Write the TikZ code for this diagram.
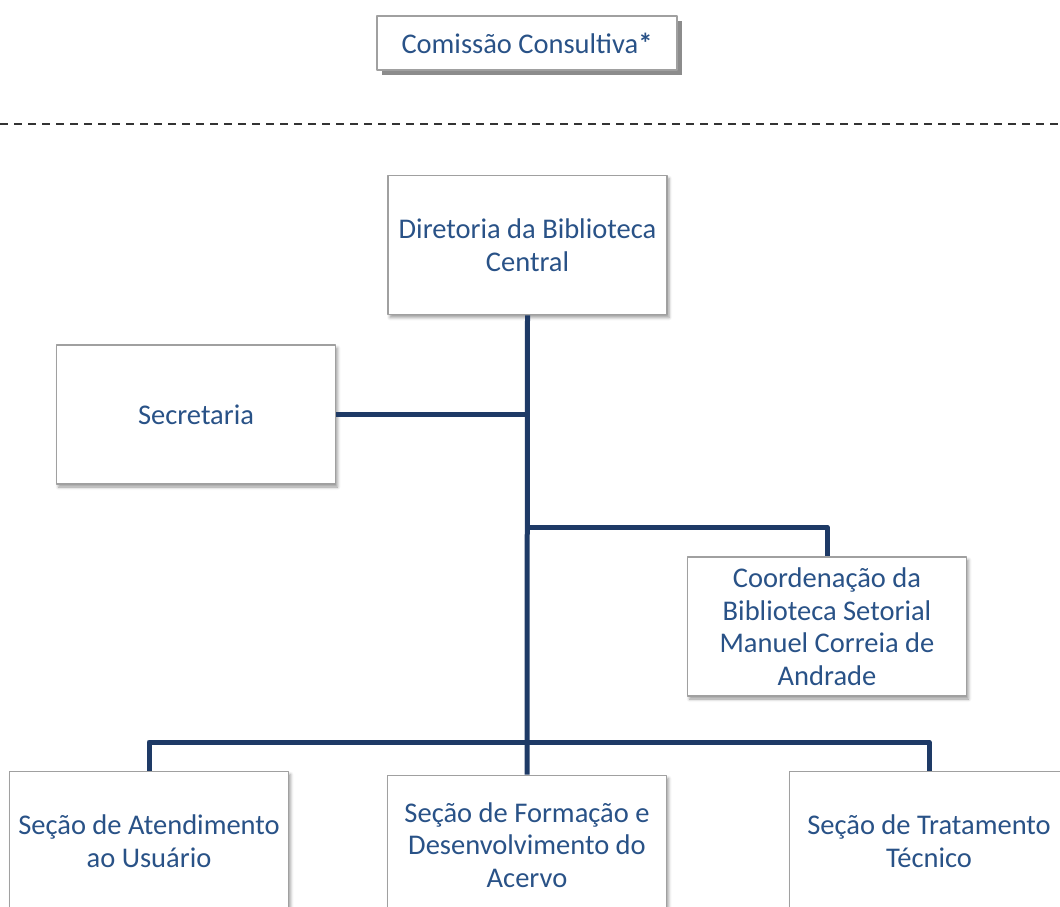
\documentclass[tikz,border=0pt]{standalone}
\usepackage{fontspec}
\setmainfont{Carlito}
\usepackage{tikz}
\usetikzlibrary{calc}
\usetikzlibrary{positioning}
\usetikzlibrary{shadows}
\usetikzlibrary{shadows.blur}

\definecolor{textblue}{RGB}{41,82,135}
\definecolor{linenavy}{RGB}{30,58,102}
\definecolor{boxgray}{RGB}{160,160,160}

\begin{document}
\begin{tikzpicture}
			[
			x=1pt,y=-1pt,
			font=\fontsize{28.5}{32.5}\selectfont,
			line join=round
			]
			
			% Styles: boxes and connectors
			\tikzstyle{unit box}=[draw=boxgray,line width=1.6pt,fill=white,text=textblue,align=center,
				minimum width=279pt,minimum height=139pt,inner sep=0pt,
				blur shadow={shadow xshift=2pt,shadow yshift=-3pt,shadow blur radius=3pt,shadow opacity=40}];
			\tikzstyle{top box}=[draw=boxgray,line width=1.6pt,fill=white,text=textblue,align=center,
				minimum width=300pt,minimum height=54pt,inner sep=0pt,
				drop shadow={shadow xshift=5pt,shadow yshift=-5pt,fill=black!45,opacity=1}];
			\tikzstyle{link}=[draw=linenavy,line width=5pt];
			
			\useasboundingbox (0,0) rectangle (1060,907);
			
			% Consultative body above the line
			\node(com)[top box] at (527,43) {Comissão Consultiva\textbf{*}};
			\coordinate (dl) at (0,124);
			\coordinate (dr) at (1060,124);
			\draw[black!80,line width=1.8pt,dash pattern=on 8pt off 6pt](dl)--(dr);
			
			% The units
			\node(dir)[unit box] at (527.5,245) {Diretoria da Biblioteca\\Central};
			\node(sec)[unit box] at (196,414.5) {Secretaria};
			\node(coord)[unit box] at (827,626.5) {Coordenação da\\Biblioteca Setorial\\Manuel Correia de\\Andrade};
			\node(aten)[unit box] at (149,841) {Seção de Atendimento\\ao Usuário};
			\node(form)[unit box] at (527,845) {Seção de Formação e\\Desenvolvimento do\\Acervo};
			\node(trat)[unit box] at (929,841) {Seção de Tratamento\\Técnico};
			
			% Connectors
			\coordinate (jc) at (527,527);
			\coordinate (bus) at (527,742);
			\draw[link](dir.south)--(bus)--(form.north);
			\draw[link](sec.east)--(sec.east -| bus);
			\draw[link](jc)-|(coord.north);
			\foreach \x in {aten, trat} \draw[link](bus)-|(\x.north);
			\end{tikzpicture}
\end{document}
